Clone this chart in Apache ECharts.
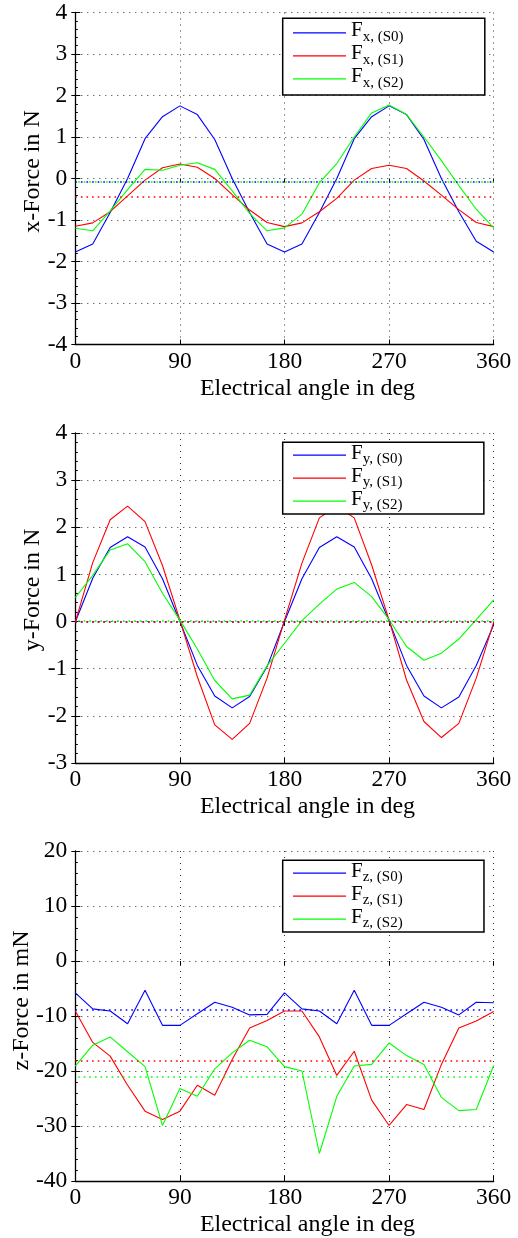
<!DOCTYPE html>
<html>
<head>
<meta charset="utf-8">
<script src="https://cdn.jsdelivr.net/npm/echarts@6/dist/echarts.min.js"></script>
<style>
html, body { margin: 0; padding: 0; background: #fff; }
#chart { width: 518px; height: 1238px; }
</style>
</head>
<body>
<div id="chart"></div>
<script>
// Electrical angle samples (deg)
const angles = [0, 15, 30, 45, 60, 75, 90, 105, 120, 135, 150, 165, 180,
                195, 210, 225, 240, 255, 270, 285, 300, 315, 330, 345, 360];

// x-force in N
const fxS0 = [-1.77, -1.58, -0.82, 0.0, 0.96, 1.49, 1.75, 1.54, 0.94, 0.0, -0.82, -1.58, -1.77,
              -1.58, -0.82, 0.0, 0.96, 1.49, 1.75, 1.54, 0.94, 0.0, -0.8, -1.51, -1.77];
const fxS1 = [-1.15, -1.07, -0.8, -0.42, -0.04, 0.26, 0.35, 0.27, 0.0, -0.39, -0.76, -1.06, -1.16,
              -1.07, -0.8, -0.48, -0.04, 0.24, 0.32, 0.24, -0.06, -0.4, -0.75, -1.06, -1.16];
const fxS2 = [-1.2, -1.26, -0.78, -0.27, 0.22, 0.2, 0.32, 0.38, 0.22, -0.3, -0.84, -1.26, -1.19,
              -0.86, -0.1, 0.36, 1.0, 1.58, 1.77, 1.54, 1.0, 0.43, -0.17, -0.74, -1.19];

// y-force in N
const fyS0 = [-0.01, 0.92, 1.57, 1.8, 1.58, 0.91, 0.0, -0.93, -1.58, -1.83, -1.59, -0.96, 0.0,
              0.91, 1.57, 1.8, 1.58, 0.91, 0.01, -0.93, -1.58, -1.83, -1.6, -0.93, -0.07];
const fyS1 = [-0.01, 1.25, 2.16, 2.45, 2.12, 1.19, 0.03, -1.17, -2.19, -2.5, -2.16, -1.2, 0.03,
              1.24, 2.2, 2.45, 2.2, 1.2, 0.03, -1.24, -2.12, -2.46, -2.16, -1.2, -0.01];
const fyS2 = [0.51, 0.98, 1.52, 1.65, 1.27, 0.6, 0.03, -0.58, -1.25, -1.64, -1.56, -0.94, -0.46,
              0.02, 0.37, 0.69, 0.83, 0.53, 0.04, -0.53, -0.82, -0.67, -0.37, 0.04, 0.46];

// z-force in mN
const fzS0 = [-5.8, -8.7, -9.1, -11.4, -5.3, -11.7, -11.7, -9.6, -7.5, -8.4, -9.8, -9.7, -5.8,
              -8.7, -9.1, -11.4, -5.3, -11.7, -11.7, -9.6, -7.5, -8.4, -9.8, -7.5, -7.6];
const fzS1 = [-9.1, -14.8, -17.3, -22.6, -27.3, -28.8, -27.3, -22.6, -24.4, -17.9, -12.2, -10.8, -9.1,
              -9.1, -13.8, -20.8, -16.4, -25.3, -29.9, -26.1, -27.0, -18.8, -12.2, -10.9, -9.2];
const fzS2 = [-19.1, -15.3, -13.8, -16.5, -19.2, -29.9, -23.2, -24.6, -19.6, -16.7, -14.4, -15.6, -19.2,
              -20.0, -35.0, -24.6, -19.1, -18.8, -14.9, -17.2, -18.8, -24.8, -27.2, -27.0, -19.0];

// Mean value of each series (dotted reference lines)
const meanFx = [-0.08, -0.44, -0.07];
const meanFy = [-0.01, 0.0, 0.02];
const meanFz = [-8.9, -18.1, -21.0];

// Axis ticks
const angleTicks = { min: 0, max: 360, interval: 90 };
const fxTicks = { min: -4, max: 4, interval: 1 };
const fyTicks = { min: -3, max: 4, interval: 1 };
const fzTicks = { min: -40, max: 20, interval: 10 };

const seriesLabels = ['(S0)', '(S1)', '(S2)'];
const seriesColors = ['#0000ff', '#ff0000', '#00ff00'];

const FONT = "'Liberation Serif', 'Times New Roman', serif";

const panels = [
  { comp: 'x', yName: 'x-Force in N', ticks: fxTicks, data: [fxS0, fxS1, fxS2], means: meanFx,
    top: 12.5, height: 332, legendTop: 18.3, legendPad: [2, 81.3, 3.6, 10.3],
    yNameGap: 31, yNameShift: 14 },
  { comp: 'y', yName: 'y-Force in N', ticks: fyTicks, data: [fyS0, fyS1, fyS2], means: meanFy,
    top: 433, height: 330, legendTop: 442.3, legendPad: [0.4, 81.3, 0.3, 10.3],
    yNameGap: 31, yNameShift: 16 },
  { comp: 'z', yName: 'z-Force in mN', ticks: fzTicks, data: [fzS0, fzS1, fzS2], means: meanFz,
    top: 851, height: 330, legendTop: 860.3, legendPad: [0.4, 81.3, 0.3, 10.3],
    yNameGap: 42, yNameShift: 31 }
];

const dashOffsets = [0, 0, 2.8];

const grid = [], xAxis = [], yAxis = [], legend = [], series = [];

panels.forEach((p, i) => {
  grid.push({ left: 75.3, width: 418.4, top: p.top, height: p.height,
              containLabel: false, outerBoundsMode: 'none' });

  // bottom axis
  xAxis.push({
    type: 'value', gridIndex: i, position: 'bottom',
    min: angleTicks.min, max: angleTicks.max, interval: angleTicks.interval,
    name: 'Electrical angle in deg', nameLocation: 'middle', nameGap: 32, nameMoveOverlap: false,
    nameTextStyle: { fontFamily: FONT, fontSize: 24, color: '#000', padding: [0, 0, 0, 46] },
    axisLine: { show: true, onZero: false, lineStyle: { color: '#000', width: 1.3 } },
    axisTick: { show: true, inside: true, length: 5, lineStyle: { color: '#000', width: 1 } },
    axisLabel: { margin: 5, fontFamily: FONT, fontSize: 23.5, color: '#000' },
    splitLine: { show: true, lineStyle: { color: '#333', width: 1, type: [1, 5] } }
  });
  // top mirror ticks
  xAxis.push({
    type: 'value', gridIndex: i, position: 'top',
    min: angleTicks.min, max: angleTicks.max, interval: angleTicks.interval,
    axisLine: { show: false },
    axisTick: { show: true, inside: true, length: 4, lineStyle: { color: '#000', width: 1 } },
    axisLabel: { show: false },
    splitLine: { show: false }
  });
  // left axis
  yAxis.push({
    type: 'value', gridIndex: i, position: 'left',
    min: p.ticks.min, max: p.ticks.max, interval: p.ticks.interval,
    name: p.yName, nameLocation: 'middle', nameGap: p.yNameGap, nameRotate: 90, nameMoveOverlap: false,
    nameTextStyle: { fontFamily: FONT, fontSize: 24, color: '#000', padding: [0, 0, 0, p.yNameShift] },
    axisLine: { show: true, onZero: false, lineStyle: { color: '#000', width: 1.3 } },
    axisTick: { show: true, inside: true, length: 5, lineStyle: { color: '#000', width: 1 } },
    minorTick: { show: true, splitNumber: 5, length: 2.5, lineStyle: { color: '#000', width: 1 } },
    axisLabel: { margin: 8, fontFamily: FONT, fontSize: 23.5, color: '#000' },
    splitLine: { show: true, lineStyle: { color: '#333', width: 1, type: [1, 5] } }
  });
  // right mirror ticks
  yAxis.push({
    type: 'value', gridIndex: i, position: 'right',
    min: p.ticks.min, max: p.ticks.max, interval: p.ticks.interval,
    axisLine: { show: false },
    axisTick: { show: true, inside: true, length: 4, lineStyle: { color: '#000', width: 1 } },
    axisLabel: { show: false },
    splitLine: { show: false }
  });

  const names = seriesLabels.map(s => 'F' + p.comp + ', ' + s);

  legend.push({
    data: names, orient: 'vertical', left: 282.7, top: p.legendTop,
    padding: p.legendPad, itemGap: -2.0,
    icon: 'rect', itemWidth: 53, itemHeight: 1.2,
    backgroundColor: '#fff', borderColor: '#000', borderWidth: 1.5, borderRadius: 0,
    selectedMode: false,
    formatter: name => '{f|F}{s|' + name.slice(1) + '}',
    textStyle: {
      color: '#000', fontFamily: FONT,
      rich: {
        f: { fontFamily: FONT, fontSize: 21, lineHeight: 22, padding: [0, 0, 4, 0], color: '#000' },
        s: { fontFamily: FONT, fontSize: 15, lineHeight: 14, padding: [8, 0, 0, 0], color: '#000' }
      }
    }
  });

  p.data.forEach((vals, k) => {
    series.push({
      name: names[k], type: 'line',
      xAxisIndex: 2 * i, yAxisIndex: 2 * i,
      data: angles.map((a, j) => [a, vals[j]]),
      symbol: 'none', smooth: false,
      color: seriesColors[k],
      lineStyle: { color: seriesColors[k], width: 1.1 },
      markLine: {
        silent: true, symbol: ['none', 'none'], animation: false,
        label: { show: false },
        lineStyle: { color: seriesColors[k], width: 1.6, type: [1.6, 4], dashOffset: dashOffsets[k] },
        data: [{ yAxis: p.means[k] }]
      }
    });
  });
});

const chart = echarts.init(document.getElementById('chart'), null, { renderer: 'canvas' });
chart.setOption({
  backgroundColor: '#fff',
  animation: false,
  grid, xAxis, yAxis, legend, series
});
</script>
</body>
</html>
